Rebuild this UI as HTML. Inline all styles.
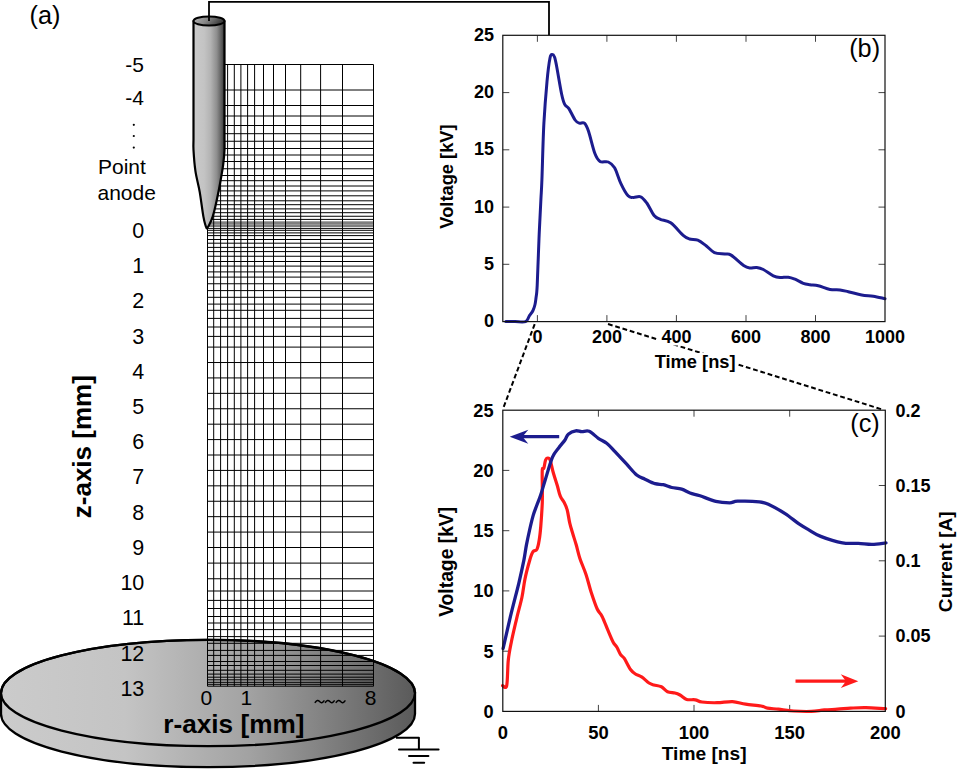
<!DOCTYPE html><html><head><meta charset="utf-8"><style>html,body{margin:0;padding:0;background:#fff;width:960px;height:769px;overflow:hidden}svg{display:block}</style></head><body>
<svg width="960" height="769" viewBox="0 0 960 769" font-family='"Liberation Sans", sans-serif'>
<defs>
<linearGradient id="gd" x1="0" y1="0" x2="1" y2="0"><stop offset="0" stop-color="#cbcbcb"/><stop offset="0.3" stop-color="#c4c4c4"/><stop offset="0.6" stop-color="#a2a2a2"/><stop offset="1" stop-color="#5a5a5a"/></linearGradient>
<linearGradient id="ga" x1="0" y1="0" x2="1" y2="0"><stop offset="0" stop-color="#cbcbcb"/><stop offset="0.35" stop-color="#c3c3c3"/><stop offset="0.55" stop-color="#b3b3b3"/><stop offset="0.75" stop-color="#8e8e8e"/><stop offset="0.9" stop-color="#5c5c5c"/><stop offset="1" stop-color="#333"/></linearGradient>
<linearGradient id="gt" x1="0" y1="0" x2="1" y2="0.3"><stop offset="0" stop-color="#b8b8b8"/><stop offset="0.5" stop-color="#888"/><stop offset="1" stop-color="#3a3a3a"/></linearGradient>
</defs>
<path d="M1,693 L1,714 A207,53.2 0 0 0 415,714 L415,693 Z" fill="url(#gd)" stroke="#000" stroke-width="2.3"/>
<ellipse cx="208" cy="693" rx="207" ry="53.2" fill="url(#gd)" stroke="#000" stroke-width="2.3"/>
<path d="M396,737.8 H418.9 V749.4" fill="none" stroke="#000" stroke-width="2" stroke-linejoin="round"/>
<path d="M399,749.4 H438.6 M409,756 H428.4 M413.5,762.8 H424.2" fill="none" stroke="#000" stroke-width="2" stroke-linecap="round"/>
<path d="M207.5,64.5V686.2M213.7,64.5V686.2M220.6,64.5V686.2M227.6,64.5V686.2M234.3,64.5V686.2M240.9,64.5V686.2M247.6,64.5V686.2M254.6,64.5V686.2M263.5,64.5V686.2M273.5,64.5V686.2M285.5,64.5V686.2M300.7,64.5V686.2M320.6,64.5V686.2M342.5,64.5V686.2M373.5,64.5V686.2M207.5,64.50H373.5M207.5,90.00H373.5M207.5,105.50H373.5M207.5,116.00H373.5M207.5,125.50H373.5M207.5,133.70H373.5M207.5,141.25H373.5M207.5,148.50H373.5M207.5,155.00H373.5M207.5,161.50H373.5M207.5,168.75H373.5M207.5,175.50H373.5M207.5,180.70H373.5M207.5,186.00H373.5M207.5,190.90H373.5M207.5,195.80H373.5M207.5,200.80H373.5M207.5,204.70H373.5M207.5,208.90H373.5M207.5,212.70H373.5M207.5,216.25H373.5M207.5,219.40H373.5M207.5,226.00H373.5M207.5,228.40H373.5M207.5,230.30H373.5M207.5,232.90H373.5M207.5,235.60H373.5M207.5,239.50H373.5M207.5,243.20H373.5M207.5,247.40H373.5M207.5,251.60H373.5M207.5,256.25H373.5M207.5,261.50H373.5M207.5,266.10H373.5M207.5,271.90H373.5M207.5,277.10H373.5M207.5,283.75H373.5M207.5,290.60H373.5M207.5,297.30H373.5M207.5,304.10H373.5M207.5,310.30H373.5M207.5,318.40H373.5M207.5,327.00H373.5M207.5,336.40H373.5M207.5,347.10H373.5M207.5,362.52H373.5M207.5,377.93H373.5M207.5,393.35H373.5M207.5,408.76H373.5M207.5,424.18H373.5M207.5,439.59H373.5M207.5,455.01H373.5M207.5,470.42H373.5M207.5,485.84H373.5M207.5,501.25H373.5M207.5,516.67H373.5M207.5,532.08H373.5M207.5,547.50H373.5M207.5,563.10H373.5M207.5,578.75H373.5M207.5,591.00H373.5M207.5,600.40H373.5M207.5,608.50H373.5M207.5,616.50H373.5M207.5,623.00H373.5M207.5,629.60H373.5M207.5,636.60H373.5M207.5,643.30H373.5M207.5,650.40H373.5M207.5,655.40H373.5M207.5,661.50H373.5M207.5,665.50H373.5M207.5,670.30H373.5M207.5,674.10H373.5M207.5,677.20H373.5M207.5,679.80H373.5M207.5,682.30H373.5M207.5,684.30H373.5M207.5,686.20H373.5" fill="none" stroke="#000" stroke-width="1"/>
<rect x="207.5" y="221.3" width="166.0" height="3.5" fill="#000" fill-opacity="0.5"/>
<path d="M1,693 A207,53.2 0 0 1 415,693" fill="none" stroke="#000" stroke-width="2.3"/>
<path d="M193.5,21 L193.5,140.0 C193.5,141.7 193.2,144.8 193.5,150.0 C193.8,155.2 194.4,163.9 195.4,170.9 C196.4,177.9 198.4,184.3 199.7,191.9 C201.0,199.5 202.4,211.1 203.4,216.6 C204.4,222.1 204.8,223.1 205.4,225.0 C206.0,226.9 206.2,228.2 206.8,228.3 C207.4,228.4 208.0,227.2 209.0,225.3 C210.0,223.4 211.5,220.5 212.7,216.6 C213.9,212.7 215.2,207.3 216.4,201.7 C217.6,196.1 219.0,189.4 220.1,183.2 C221.2,177.0 222.5,170.2 223.2,164.7 C223.9,159.2 224.3,154.1 224.5,150.0 C224.7,145.9 224.5,141.7 224.5,140.0 L224.5,21 Z" fill="url(#ga)" stroke="#000" stroke-width="2.2" stroke-linejoin="round"/>
<ellipse cx="209" cy="21" rx="15.5" ry="4.6" fill="url(#gt)" stroke="#000" stroke-width="2"/>
<path d="M209,21 V1.8 H549 V35.3" fill="none" stroke="#000" stroke-width="1.8"/>
<text x="29.5" y="24.2" font-size="25.3">(a)</text>
<text x="144" y="72.4" font-size="21" text-anchor="end">-5</text>
<text x="144" y="104.5" font-size="21" text-anchor="end">-4</text>
<circle cx="133.8" cy="124.8" r="1.1" fill="#000"/>
<circle cx="133.8" cy="136" r="1.1" fill="#000"/>
<circle cx="133.8" cy="147.6" r="1.1" fill="#000"/>
<text x="98" y="174.2" font-size="21">Point</text>
<text x="97.5" y="199.6" font-size="21">anode</text>
<text x="144.3" y="237.8" font-size="21.5" text-anchor="end">0</text>
<text x="144.3" y="273.0" font-size="21.5" text-anchor="end">1</text>
<text x="144.3" y="308.3" font-size="21.5" text-anchor="end">2</text>
<text x="144.3" y="343.5" font-size="21.5" text-anchor="end">3</text>
<text x="144.3" y="378.7" font-size="21.5" text-anchor="end">4</text>
<text x="144.3" y="413.9" font-size="21.5" text-anchor="end">5</text>
<text x="144.3" y="449.2" font-size="21.5" text-anchor="end">6</text>
<text x="144.3" y="484.4" font-size="21.5" text-anchor="end">7</text>
<text x="144.3" y="519.6" font-size="21.5" text-anchor="end">8</text>
<text x="144.3" y="554.9" font-size="21.5" text-anchor="end">9</text>
<text x="144.3" y="590.1" font-size="21.5" text-anchor="end">10</text>
<text x="144.3" y="625.3" font-size="21.5" text-anchor="end">11</text>
<text x="144.3" y="660.6" font-size="21.5" text-anchor="end">12</text>
<text x="144.3" y="695.8" font-size="21.5" text-anchor="end">13</text>
<text transform="translate(91.3,446.7) rotate(-90)" font-size="26" font-weight="bold" text-anchor="middle">z-axis [mm]</text>
<text x="206.3" y="705" font-size="21" text-anchor="middle">0</text>
<text x="246.3" y="705" font-size="21" text-anchor="middle">1</text>
<text x="370.6" y="705" font-size="21" text-anchor="middle">8</text>
<path d="M315.2,702.4 Q317.4,699.0 319.59999999999997,701.6 T324.0,700.8" fill="none" stroke="#000" stroke-width="1.5" stroke-linecap="round"/>
<path d="M325.4,702.4 Q327.59999999999997,699.0 329.79999999999995,701.6 T334.2,700.8" fill="none" stroke="#000" stroke-width="1.5" stroke-linecap="round"/>
<path d="M336.2,702.4 Q338.4,699.0 340.59999999999997,701.6 T345.0,700.8" fill="none" stroke="#000" stroke-width="1.5" stroke-linecap="round"/>
<text x="163.3" y="732.6" font-size="26.2" font-weight="bold">r-axis [mm]</text>
<path d="M537.4,321.6V315.1M537.4,35.3V41.8M606.9,321.6V315.1M606.9,35.3V41.8M676.4,321.6V315.1M676.4,35.3V41.8M746.0,321.6V315.1M746.0,35.3V41.8M815.5,321.6V315.1M815.5,35.3V41.8M502.8,264.3H509.3M885,264.3H878.5M502.8,207.1H509.3M885,207.1H878.5M502.8,149.8H509.3M885,149.8H878.5M502.8,92.6H509.3M885,92.6H878.5" stroke="#444" stroke-width="1" fill="none"/>
<path d="M534.7,324.1 L502.8,409.4 M608,324 L882,409.4" stroke="#000" stroke-width="2" stroke-dasharray="4.8 2.8" fill="none"/>
<path d="M505.8,321.6 C507.3,321.6 511.7,321.6 515.0,321.6 C518.3,321.6 523.2,322.5 525.5,321.6 C527.8,320.8 527.8,318.4 529.0,316.5 C530.2,314.6 532.0,312.5 533.0,310.5 C534.0,308.5 534.5,306.6 535.0,304.5 C535.5,302.4 535.6,301.2 536.0,298.0 C536.4,294.8 536.7,295.2 537.2,285.3 C537.7,275.4 538.4,252.8 539.0,238.5 C539.6,224.2 540.4,209.2 540.9,199.5 C541.4,189.8 541.4,192.7 541.9,180.0 C542.4,167.3 543.0,139.6 543.9,123.2 C544.8,106.8 546.0,92.5 547.0,81.6 C548.0,70.7 549.1,62.5 550.0,58.0 C550.9,53.5 551.5,54.8 552.2,54.6 C553.0,54.4 553.8,55.3 554.5,57.0 C555.2,58.7 555.2,58.8 556.4,65.0 C557.6,71.2 560.2,87.4 561.6,94.0 C563.0,100.6 563.5,102.0 564.7,104.4 C565.9,106.8 567.2,106.0 568.9,108.6 C570.6,111.2 573.4,117.6 575.1,120.0 C576.8,122.4 577.8,122.7 579.3,123.2 C580.8,123.7 582.8,121.8 584.4,123.2 C586.0,124.6 586.9,126.5 588.6,131.5 C590.3,136.5 592.9,148.3 594.8,153.3 C596.7,158.3 597.8,160.0 600.0,161.4 C602.2,162.8 605.9,160.9 608.3,162.0 C610.7,163.1 612.5,164.1 614.6,167.7 C616.7,171.2 618.5,178.6 620.8,183.3 C623.0,188.0 626.0,193.5 628.1,195.8 C630.2,198.2 631.2,197.2 633.3,197.4 C635.4,197.6 638.4,195.9 640.6,196.8 C642.9,197.7 644.5,199.9 646.8,203.0 C649.0,206.1 651.9,212.8 654.1,215.5 C656.4,218.2 657.5,218.1 660.3,219.3 C663.1,220.5 666.9,220.1 670.7,222.8 C674.5,225.5 680.1,232.6 683.2,235.3 C686.3,238.0 687.1,238.2 689.5,239.0 C691.9,239.8 695.0,239.0 697.8,240.1 C700.6,241.2 703.3,243.6 706.1,245.7 C708.9,247.8 711.3,251.2 714.4,252.6 C717.5,254.0 722.0,253.6 724.8,254.0 C727.6,254.4 728.0,253.2 731.1,255.1 C734.2,257.0 740.5,263.4 743.6,265.5 C746.7,267.6 747.6,267.7 749.8,268.0 C752.0,268.3 754.5,267.2 756.7,267.5 C759.0,267.8 760.5,268.1 763.3,269.5 C766.1,270.9 770.5,274.5 773.3,275.8 C776.1,277.1 777.5,277.3 780.0,277.5 C782.5,277.7 785.8,276.9 788.3,277.2 C790.8,277.5 792.5,278.2 795.0,279.2 C797.5,280.2 800.8,282.4 803.3,283.3 C805.8,284.2 807.5,284.3 810.0,284.7 C812.5,285.1 815.0,285.0 818.3,285.8 C821.6,286.6 826.4,288.8 830.0,289.5 C833.6,290.2 837.0,289.6 840.0,290.0 C843.0,290.4 844.7,290.9 848.3,291.7 C851.9,292.5 857.5,294.2 861.7,295.0 C865.9,295.8 869.4,295.6 873.3,296.2 C877.2,296.8 883.0,298.3 885.0,298.7" fill="none" stroke="#1c1c8e" stroke-width="3" stroke-linejoin="round" stroke-linecap="round"/>
<rect x="502.8" y="35.3" width="382.2" height="286.3" fill="none" stroke="#111" stroke-width="1.2"/>
<rect x="657" y="327" width="40" height="18.5" fill="#fff"/>
<text x="494" y="327.2" font-size="18" font-weight="bold" text-anchor="end">0</text>
<text x="494" y="269.9" font-size="18" font-weight="bold" text-anchor="end">5</text>
<text x="494" y="212.7" font-size="18" font-weight="bold" text-anchor="end">10</text>
<text x="494" y="155.4" font-size="18" font-weight="bold" text-anchor="end">15</text>
<text x="494" y="98.2" font-size="18" font-weight="bold" text-anchor="end">20</text>
<text x="494" y="40.9" font-size="18" font-weight="bold" text-anchor="end">25</text>
<text x="537.4" y="343" font-size="18" font-weight="bold" text-anchor="middle">0</text>
<text x="606.9" y="343" font-size="18" font-weight="bold" text-anchor="middle">200</text>
<text x="676.4" y="343" font-size="18" font-weight="bold" text-anchor="middle">400</text>
<text x="746.0" y="343" font-size="18" font-weight="bold" text-anchor="middle">600</text>
<text x="815.5" y="343" font-size="18" font-weight="bold" text-anchor="middle">800</text>
<text x="885.0" y="343" font-size="18" font-weight="bold" text-anchor="middle">1000</text>
<rect x="652" y="353" width="86" height="22" fill="#fff"/>
<text x="695.15" y="367.8" font-size="18.3" font-weight="bold" text-anchor="middle">Time [ns]</text>
<text transform="translate(452.7,176.5) rotate(-90)" font-size="18.3" font-weight="bold" text-anchor="middle">Voltage [kV]</text>
<text x="849.2" y="56.6" font-size="25.3">(b)</text>
<path d="M598.4,711.4V704.9M598.4,410.2V416.7M694.0,711.4V704.9M694.0,410.2V416.7M789.7,711.4V704.9M789.7,410.2V416.7M502.8,651.2H509.3M502.8,590.9H509.3M502.8,530.7H509.3M502.8,470.4H509.3M885.3,636.1H878.8M885.3,560.8H878.8M885.3,485.5H878.8" stroke="#444" stroke-width="1" fill="none"/>
<path d="M502.5,685.6 C503.2,685.6 505.7,689.9 506.7,685.6 C507.7,681.3 507.5,667.4 508.3,660.0 C509.1,652.6 510.1,648.2 511.5,641.2 C512.9,634.3 515.0,625.6 516.7,618.3 C518.4,611.0 520.5,604.1 521.9,597.5 C523.3,590.9 523.7,585.0 525.0,578.8 C526.3,572.5 528.5,564.5 529.8,560.0 C531.1,555.5 531.8,553.5 533.0,551.7 C534.2,549.9 535.9,551.4 536.9,549.4 C537.9,547.4 538.6,543.9 539.2,540.0 C539.9,536.1 540.3,532.2 540.8,526.0 C541.3,519.8 542.0,509.0 542.3,502.5 C542.5,496.0 542.3,492.4 542.3,486.9 C542.3,481.4 542.0,472.8 542.3,469.7 C542.6,466.6 543.4,469.7 543.9,468.1 C544.4,466.5 544.9,462.0 545.5,460.3 C546.1,458.6 547.0,458.0 547.8,458.0 C548.6,458.0 549.3,457.8 550.2,460.3 C551.1,462.8 552.1,468.6 553.3,472.8 C554.5,477.0 556.0,481.4 557.2,485.3 C558.4,489.2 559.1,493.4 560.3,496.2 C561.5,499.1 563.0,500.2 564.2,502.5 C565.4,504.8 566.4,506.9 567.3,510.3 C568.2,513.7 568.8,518.9 569.7,522.8 C570.6,526.7 571.7,530.1 572.8,533.8 C573.9,537.4 575.0,540.7 576.2,544.8 C577.4,548.9 578.3,553.5 579.9,558.4 C581.5,563.3 584.1,568.8 586.0,574.4 C587.9,580.0 589.1,585.9 591.0,591.7 C592.9,597.5 595.4,604.9 597.2,609.0 C599.1,613.1 600.2,612.7 602.1,616.4 C604.0,620.1 606.4,626.9 608.3,631.2 C610.1,635.5 611.8,639.6 613.2,642.3 C614.6,645.0 615.7,645.2 616.9,647.3 C618.1,649.4 619.4,652.9 620.6,654.7 C621.8,656.6 622.6,655.9 624.3,658.4 C625.9,660.9 628.6,666.9 630.5,669.5 C632.4,672.1 633.5,672.8 635.4,674.0 C637.2,675.2 639.3,675.4 641.6,676.9 C643.9,678.4 646.9,681.6 649.0,683.0 C651.1,684.4 651.9,684.4 654.0,685.0 C656.1,685.6 659.1,685.7 661.4,686.8 C663.6,687.9 665.2,690.7 667.5,691.7 C669.8,692.7 672.8,692.5 674.9,693.0 C677.0,693.5 678.0,693.9 680.0,695.0 C682.0,696.1 684.1,698.6 686.6,699.4 C689.1,700.2 692.8,699.4 695.3,699.8 C697.8,700.2 698.2,701.5 701.9,702.0 C705.5,702.5 712.1,702.8 717.2,702.7 C722.3,702.6 727.8,701.4 732.5,701.6 C737.2,701.9 740.9,703.5 745.6,704.2 C750.4,704.9 757.4,705.4 761.0,706.0 C764.6,706.6 764.6,707.6 767.5,708.1 C770.4,708.6 774.0,708.7 778.4,709.2 C782.8,709.7 788.3,710.6 793.8,711.0 C799.3,711.4 806.2,711.6 811.3,711.4 C816.4,711.2 820.0,710.3 824.4,709.9 C828.8,709.5 833.1,709.5 837.5,709.2 C841.9,708.9 845.9,708.4 850.6,708.1 C855.4,707.9 860.2,707.6 866.0,707.7 C871.8,707.8 882.3,708.5 885.6,708.6" fill="none" stroke="#ff1a1a" stroke-width="3.2" stroke-linejoin="round" stroke-linecap="round"/>
<path d="M503.1,648.5 C504.3,643.2 507.8,627.6 510.4,616.7 C513.0,605.8 516.5,592.7 518.8,583.3 C521.0,573.9 522.6,566.5 523.9,560.1 C525.1,553.7 525.5,549.6 526.5,544.6 C527.5,539.6 528.5,534.9 529.6,530.0 C530.7,525.1 532.0,519.6 533.2,515.4 C534.4,511.2 535.7,508.3 536.9,505.0 C538.1,501.7 539.1,499.8 540.5,495.6 C541.9,491.4 543.2,486.4 545.2,480.0 C547.2,473.6 550.2,462.6 552.5,457.2 C554.8,451.8 556.7,450.7 558.8,447.8 C560.8,444.9 563.4,442.3 565.0,440.0 C566.6,437.7 566.5,435.7 568.3,434.2 C570.1,432.7 573.6,431.2 575.8,430.8 C578.0,430.4 579.5,431.6 581.7,431.7 C583.9,431.8 586.4,430.2 589.2,431.3 C592.0,432.4 595.4,436.3 598.3,438.3 C601.2,440.3 603.9,441.1 606.7,443.3 C609.5,445.5 611.7,448.2 615.0,451.7 C618.3,455.2 623.1,460.3 626.7,464.2 C630.3,468.1 633.7,472.5 636.7,475.0 C639.8,477.5 642.0,477.8 645.0,479.2 C648.0,480.6 652.0,482.8 655.0,483.7 C658.0,484.6 660.5,484.1 663.3,484.7 C666.1,485.3 668.6,486.8 671.7,487.5 C674.8,488.2 678.7,488.3 681.7,489.2 C684.8,490.1 687.0,491.9 690.0,493.0 C693.0,494.1 695.7,494.4 700.0,495.8 C704.3,497.2 710.8,500.2 715.8,501.4 C720.8,502.6 726.1,502.8 729.7,502.8 C733.3,502.8 732.7,501.4 737.6,501.2 C742.5,501.0 754.1,501.2 759.4,501.8 C764.7,502.4 765.0,502.7 769.3,504.7 C773.6,506.7 780.1,510.4 785.1,513.6 C790.1,516.8 795.0,521.2 799.0,523.9 C803.0,526.6 805.2,527.8 808.8,529.9 C812.4,532.0 815.1,534.2 820.7,536.4 C826.3,538.6 836.2,541.8 842.5,542.9 C848.8,544.0 853.3,543.1 858.3,543.3 C863.2,543.5 867.6,544.4 872.2,544.3 C876.8,544.2 883.7,543.1 886.0,542.9" fill="none" stroke="#1c1c8e" stroke-width="3.3" stroke-linejoin="round" stroke-linecap="round"/>
<rect x="502.8" y="410.2" width="382.49999999999994" height="301.2" fill="none" stroke="#111" stroke-width="1.2"/>
<path d="M559.2,436.7 H518" stroke="#1c1c8e" stroke-width="3.2" fill="none"/>
<path d="M509.7,436.7 L528.3,429.8 L522.5,436.7 L528.3,443.7 Z" fill="#1c1c8e"/>
<path d="M795.5,681.2 H850" stroke="#ff1a1a" stroke-width="3.2" fill="none"/>
<path d="M858.3,681.2 L840.8,674.2 L846,681.2 L840.8,688 Z" fill="#ff1a1a"/>
<text x="493.6" y="717.9" font-size="18.2" font-weight="bold" text-anchor="end">0</text>
<text x="493.6" y="657.7" font-size="18.2" font-weight="bold" text-anchor="end">5</text>
<text x="493.6" y="597.4" font-size="18.2" font-weight="bold" text-anchor="end">10</text>
<text x="493.6" y="537.2" font-size="18.2" font-weight="bold" text-anchor="end">15</text>
<text x="493.6" y="476.9" font-size="18.2" font-weight="bold" text-anchor="end">20</text>
<text x="493.6" y="416.7" font-size="18.2" font-weight="bold" text-anchor="end">25</text>
<text x="502.8" y="739" font-size="18.4" font-weight="bold" text-anchor="middle">0</text>
<text x="598.4" y="739" font-size="18.4" font-weight="bold" text-anchor="middle">50</text>
<text x="694.0" y="739" font-size="18.4" font-weight="bold" text-anchor="middle">100</text>
<text x="789.7" y="739" font-size="18.4" font-weight="bold" text-anchor="middle">150</text>
<text x="885.3" y="739" font-size="18.4" font-weight="bold" text-anchor="middle">200</text>
<text x="895.5" y="717.7" font-size="18" font-weight="bold">0</text>
<text x="895.5" y="642.4" font-size="18" font-weight="bold">0.05</text>
<text x="895.5" y="567.1" font-size="18" font-weight="bold">0.1</text>
<text x="895.5" y="491.8" font-size="18" font-weight="bold">0.15</text>
<text x="895.5" y="416.5" font-size="18" font-weight="bold">0.2</text>
<text x="704.15" y="759.8" font-size="19.2" font-weight="bold" text-anchor="middle">Time [ns]</text>
<text transform="translate(452.7,561.85) rotate(-90)" font-size="19.3" font-weight="bold" text-anchor="middle">Voltage [kV]</text>
<text transform="translate(952,561.75) rotate(-90)" font-size="19.1" font-weight="bold" text-anchor="middle">Current [A]</text>
<text x="850.3" y="431.8" font-size="25.3">(c)</text>
</svg></body></html>
